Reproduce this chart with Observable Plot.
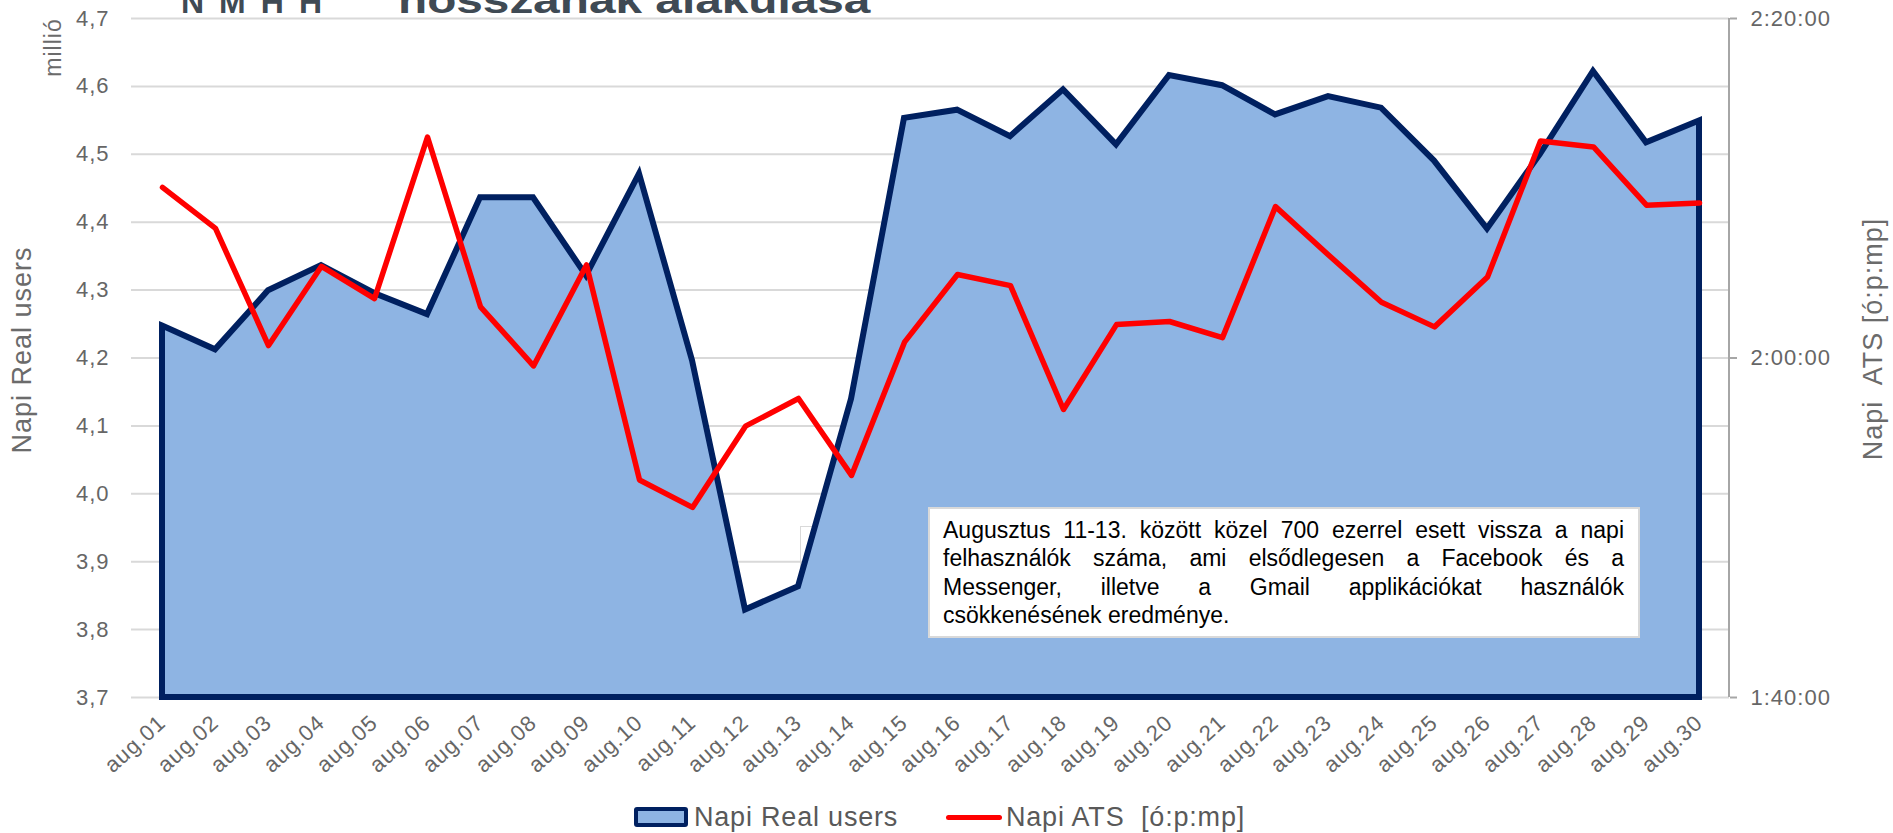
<!DOCTYPE html>
<html>
<head>
<meta charset="utf-8">
<script src="https://cdn.jsdelivr.net/npm/d3@7"></script>
<script src="https://cdn.jsdelivr.net/npm/@observablehq/plot@0.6"></script>
<style>
  html, body { margin: 0; padding: 0; background: #fff; }
  #wrap { position: relative; width: 1893px; height: 833px; overflow: hidden; font-family: "Liberation Sans", Arial, sans-serif; }
  #chart { position: absolute; left: 0; top: 0; z-index: 1; }
  #ghost { position: absolute; left: 800px; top: 526px; width: 720px; height: 120px; border: 1.5px solid #d9d9d9; box-sizing: border-box; z-index: 0; }
  #title { position: absolute; left: 398px; top: -17px; font: bold 36px/36px "Liberation Sans", Arial, sans-serif; color: #3f4a54; transform-origin: 0 0; transform: scaleX(1.326); white-space: nowrap; z-index: 2; }
  #logo { position: absolute; left: 181px; top: -14px; font: bold 32px/32px "Liberation Sans", Arial, sans-serif; color: #3f4a54; letter-spacing: 15px; white-space: nowrap; z-index: 2; }
  #note { position: absolute; left: 928px; top: 507px; width: 712px; height: 131px; box-sizing: border-box; background: #fff; border: 2px solid #d9d9d9; padding: 7px 14px 0 13px; font: 23px/28.4px "Liberation Sans", Arial, sans-serif; color: #000; z-index: 3; }
  #note .j { text-align: justify; text-align-last: justify; white-space: nowrap; }
  #note .j.last { text-align-last: left; }
  .leg { position: absolute; z-index: 2; }
  .legtxt { font: 27px/27px "Liberation Sans", Arial, sans-serif; color: #595959; letter-spacing: 0.8px; white-space: pre; top: 804px; }
</style>
</head>
<body>
<div id="wrap">
  <div id="ghost"></div>
  <div id="chart"></div>
  <div id="logo">NMHH</div>
  <div id="title">hosszának alakulása</div>
  <div id="note"></div>
  <div class="leg" id="sw1" style="left:634px; top:807px; width:54px; height:20px; box-sizing:border-box; border:4px solid #002060; background:#8EB4E3; border-radius:3px;"></div>
  <div class="leg legtxt" id="lt1" style="left:694px;"></div>
  <div class="leg" id="sw2" style="left:946px; top:815px; width:56px; height:5px; background:#ff0000; border-radius:2.5px;"></div>
  <div class="leg legtxt" id="lt2" style="left:1006px;"></div>
</div>
<script>
// ---- data ----
const dates = ["aug.01","aug.02","aug.03","aug.04","aug.05","aug.06","aug.07","aug.08","aug.09","aug.10",
               "aug.11","aug.12","aug.13","aug.14","aug.15","aug.16","aug.17","aug.18","aug.19","aug.20",
               "aug.21","aug.22","aug.23","aug.24","aug.25","aug.26","aug.27","aug.28","aug.29","aug.30"];
// Napi Real users (millió)
const users = [4.247, 4.212, 4.299, 4.336, 4.295, 4.264, 4.436, 4.436, 4.321, 4.471,
               4.196, 3.829, 3.863, 4.139, 4.553, 4.565, 4.526, 4.595, 4.514, 4.616,
               4.601, 4.558, 4.585, 4.568, 4.490, 4.390, 4.500, 4.622, 4.517, 4.549];
// Napi ATS [ó:p:mp]
const ats = ["2:10:03","2:07:38","2:00:44","2:05:24","2:03:30","2:13:01","2:03:01","1:59:32","2:05:29","1:52:49",
             "1:51:12","1:55:59","1:57:37","1:53:05","2:00:56","2:04:55","2:04:16","1:56:58","2:01:58","2:02:09",
             "2:01:12","2:08:55","2:06:04","2:03:17","2:01:50","2:04:46","2:12:47","2:12:26","2:09:00","2:09:08"];
const usersTicks = [3.7, 3.8, 3.9, 4.0, 4.1, 4.2, 4.3, 4.4, 4.5, 4.6, 4.7];
const atsTicks = ["1:40:00", "2:00:00", "2:20:00"];
const usersLabel = "Napi Real users";
const atsLabel = "Napi\u00A0 ATS [ó:p:mp]";
const legendUsers = "Napi Real users";
const legendAts = "Napi ATS  [ó:p:mp]";
const unitLabel = "millió";
const noteLines = [
  "Augusztus 11-13. között közel 700 ezerrel esett vissza a napi",
  "felhasználók száma, ami elsődlegesen a Facebook és a",
  "Messenger, illetve a Gmail applikációkat használók",
  "csökkenésének eredménye."
];

// ---- helpers ----
const toSec = s => { const [h, m, x] = s.split(":").map(Number); return h * 3600 + m * 60 + x; };
const fmtHMS = v => { const s = Math.round(v); const h = Math.floor(s / 3600), m = Math.floor((s % 3600) / 60), x = s % 60;
  return `${h}:${String(m).padStart(2, "0")}:${String(x).padStart(2, "0")}`; };
const yDomain = [usersTicks[0], usersTicks[usersTicks.length - 1]];
const atsToY = d3.scaleLinear().domain([toSec(atsTicks[0]), toSec(atsTicks[atsTicks.length - 1])]).range(yDomain);

const data = dates.map((d, i) => ({date: d, users: users[i], ats: ats[i], atsY: atsToY(toSec(ats[i]))}));

const rightLine = (index, scales, values, dim) => {
  const x = dim.width - dim.marginRight;
  return d3.create("svg:line")
    .attr("x1", x).attr("x2", x)
    .attr("y1", dim.marginTop).attr("y2", dim.height - dim.marginBottom)
    .attr("stroke", "#a6a6a6").attr("stroke-width", 2).node();
};

const chart = Plot.plot({
  width: 1893,
  height: 770,
  marginLeft: 131,
  marginRight: 164,
  marginTop: 18,
  marginBottom: 73,
  style: {background: "transparent", fontFamily: "'Liberation Sans', Arial, sans-serif", letterSpacing: "1px", overflow: "visible"},
  x: {type: "point", domain: dates, padding: 0.5},
  y: {domain: yDomain},
  marks: [
    Plot.ruleY(usersTicks, {stroke: "#d9d9d9", strokeWidth: 2}),
    Plot.areaY(data, {x: "date", y1: yDomain[0], y2: "users", fill: "#8EB4E3", stroke: "#002060", strokeWidth: 6, strokeLinejoin: "miter", strokeMiterlimit: 3}),
    Plot.lineY(data, {x: "date", y: "atsY", stroke: "#ff0000", strokeWidth: 5.5, strokeLinejoin: "round", strokeLinecap: "round"}),
    rightLine,
    Plot.axisY(usersTicks, {anchor: "left", tickSize: 0, tickPadding: 22, fontSize: 22, fill: "#666666",
      tickFormat: d => d.toFixed(1).replace(".", ","), label: null}),
    Plot.axisY(atsTicks.map(t => atsToY(toSec(t))), {anchor: "right", tickSize: 7, tickPadding: 14, fontSize: 22,
      stroke: "#a6a6a6", strokeWidth: 2, fill: "#666666", tickFormat: y => fmtHMS(atsToY.invert(y)), label: null}),
    Plot.axisX({tickRotate: -42, tickSize: 0, tickPadding: 22, fontSize: 22, fill: "#666666", label: null}),
    Plot.text([usersLabel], {text: d => d, frameAnchor: "left", textAnchor: "middle", lineAnchor: "middle", dx: -109, dy: -8, rotate: -90, fontSize: 27, fill: "#6b6b6b"}),
    Plot.text([unitLabel], {text: d => d, frameAnchor: "top-left", textAnchor: "middle", lineAnchor: "middle", dx: -78, dy: 29, rotate: -90, fontSize: 23, fill: "#6b6b6b"}),
    Plot.text([atsLabel], {text: d => d, frameAnchor: "right", textAnchor: "middle", lineAnchor: "middle", dx: 144, dy: -19, rotate: -90, fontSize: 27, fill: "#6b6b6b"})
  ]
});
document.getElementById("chart").appendChild(chart);

const note = document.getElementById("note");
noteLines.forEach((t, i) => {
  const div = document.createElement("div");
  div.className = "j" + (i === noteLines.length - 1 ? " last" : "");
  div.textContent = t;
  note.appendChild(div);
});
document.getElementById("lt1").textContent = legendUsers;
document.getElementById("lt2").textContent = legendAts;
</script>
</body>
</html>
